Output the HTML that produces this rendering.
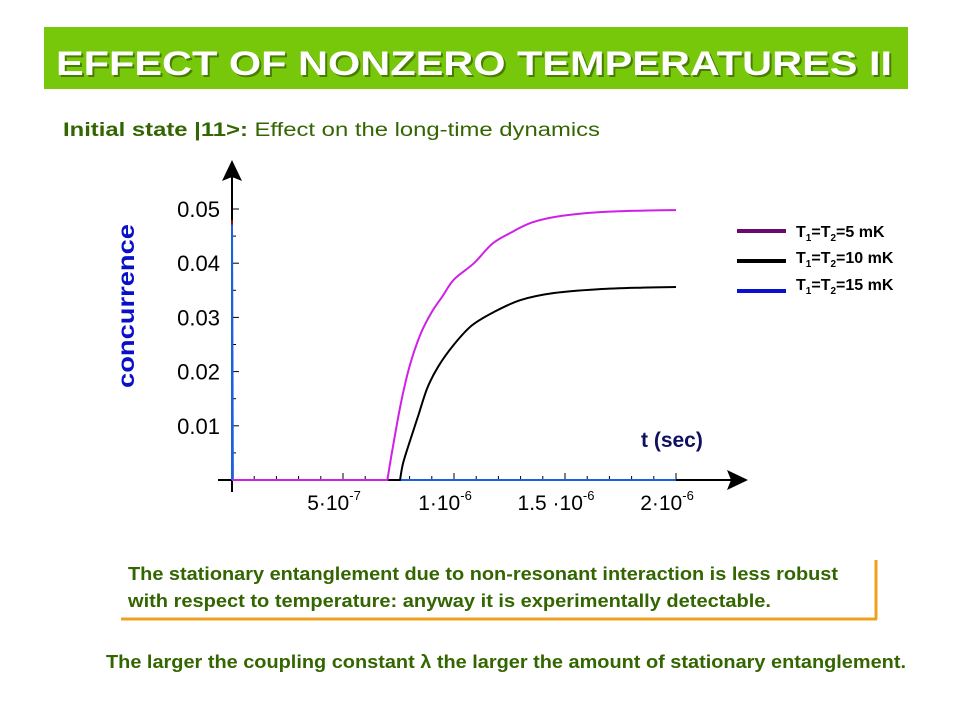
<!DOCTYPE html>
<html><head><meta charset="utf-8"><style>
html,body{margin:0;padding:0;background:#fff;}
svg{display:block;font-family:"Liberation Sans",Arial,sans-serif;}
</style></head><body>
<svg id="chart" width="960" height="720" viewBox="0 0 960 720">
<rect x="44" y="27" width="864" height="62" fill="#77c80a"/>
<text x="58" y="77" font-size="34" font-weight="bold" fill="#2a4a00" opacity="0.6" textLength="836" lengthAdjust="spacingAndGlyphs">EFFECT OF NONZERO TEMPERATURES II</text>
<text x="56" y="75" font-size="34" font-weight="bold" fill="#fff" textLength="836" lengthAdjust="spacingAndGlyphs">EFFECT OF NONZERO TEMPERATURES II</text>
<text x="63" y="136" font-size="19" fill="#336600" textLength="537" lengthAdjust="spacingAndGlyphs"><tspan font-weight="bold">Initial state |11&gt;:</tspan> Effect on the long-time dynamics</text>

<g id="plot"></g>

<text x="0" y="0" transform="translate(134,388) rotate(-90)" font-size="23" font-weight="bold" fill="#0a10c8" textLength="164" lengthAdjust="spacingAndGlyphs">concurrence</text>
<text x="641" y="447" font-size="21" font-weight="bold" fill="#101060">t (sec)</text>

<g>
<g><line x1="737" y1="231" x2="786" y2="231" stroke="#6a0a6e" stroke-width="4"/><text x="796" y="237" font-size="16" font-weight="bold">T<tspan font-size="10" dy="4">1</tspan><tspan dy="-4">=T</tspan><tspan font-size="10" dy="4">2</tspan><tspan dy="-4">=5 mK</tspan></text></g>
<g><line x1="737" y1="261" x2="786" y2="261" stroke="#000" stroke-width="4"/><text x="796" y="263" font-size="16" font-weight="bold">T<tspan font-size="10" dy="4">1</tspan><tspan dy="-4">=T</tspan><tspan font-size="10" dy="4">2</tspan><tspan dy="-4">=10 mK</tspan></text></g>
<g><line x1="737" y1="291" x2="786" y2="291" stroke="#0a10d0" stroke-width="4"/><text x="796" y="290" font-size="16" font-weight="bold">T<tspan font-size="10" dy="4">1</tspan><tspan dy="-4">=T</tspan><tspan font-size="10" dy="4">2</tspan><tspan dy="-4">=15 mK</tspan></text></g>
</g>

<g>
<line x1="876" y1="560" x2="876" y2="619" stroke="#f0a020" stroke-width="3"/>
<line x1="121" y1="619" x2="877" y2="619" stroke="#f0a020" stroke-width="3"/>
<text x="128" y="580" font-size="18" font-weight="bold" fill="#336600" textLength="710" lengthAdjust="spacingAndGlyphs">The stationary entanglement due to non-resonant interaction is less robust</text>
<text x="128" y="607" font-size="18" font-weight="bold" fill="#336600" textLength="643" lengthAdjust="spacingAndGlyphs">with respect to temperature: anyway it is experimentally detectable.</text>
</g>
<text x="106" y="668" font-size="18" font-weight="bold" fill="#336600" textLength="800" lengthAdjust="spacingAndGlyphs">The larger the coupling constant λ the larger the amount of stationary entanglement.</text>
</svg>
<script>
const xTickVals = [5e-7, 1e-6, 1.5e-6, 2e-6];
const xTickMant = ["5·10", "1·10", "1.5 ·10", "2·10"];
const xTickExp = ["-7", "-6", "-6", "-6"];
const yTickVals = [0.01, 0.02, 0.03, 0.04, 0.05];
const yTickLabels = ["0.01", "0.02", "0.03", "0.04", "0.05"];
const t5 = [0, 0.70e-6, 0.72e-6, 0.76e-6, 0.80e-6, 0.85e-6, 0.90e-6, 0.95e-6, 1.0e-6, 1.09e-6, 1.17e-6, 1.25e-6, 1.35e-6, 1.48e-6, 1.65e-6, 1.85e-6, 2.0e-6];
const c5 = [0, 0, 0.005, 0.014, 0.021, 0.027, 0.031, 0.034, 0.037, 0.040, 0.0435, 0.0455, 0.0475, 0.0487, 0.0494, 0.0497, 0.0498];
const t10 = [0, 0.757e-6, 0.77e-6, 0.80e-6, 0.84e-6, 0.88e-6, 0.93e-6, 1.0e-6, 1.08e-6, 1.18e-6, 1.30e-6, 1.45e-6, 1.65e-6, 1.85e-6, 2.0e-6];
const c10 = [0, 0, 0.003, 0.007, 0.012, 0.017, 0.021, 0.025, 0.0285, 0.031, 0.0332, 0.0345, 0.0352, 0.0355, 0.0356];
const t15 = [0, 0, 0.004e-6, 2.0e-6];
const c15 = [0, 0.047, 0, 0];
const spikeT = [0, 0];
const spikeC = [0, 0.048];

const X0 = 232, XS = 222e6, Y0 = 480, YS = 5420;
const sx = t => X0 + t * XS;
const sy = c => Y0 - c * YS;
const NS = "http://www.w3.org/2000/svg";
const g = document.getElementById('plot');
function mk(tag, attrs){const e=document.createElementNS(NS,tag);for(const k in attrs)e.setAttribute(k,attrs[k]);g.appendChild(e);return e;}

const xa = mk('line',{x1:218,y1:Y0,x2:735,y2:Y0,stroke:'#000','stroke-width':2});


const xh = mk('polygon',{points:'748,480 727,470 731,480 727,490',fill:'#000'});


const ya = mk('line',{x1:X0,y1:492,x2:X0,y2:175,stroke:'#000','stroke-width':2});


const yh = mk('polygon',{points:'232,160 222,181 232,177 242,181',fill:'#000'});



for(let i=1;i<=20;i++){
  const x=sx(i*1e-7);
  const tk=mk('line',{x1:x,y1:Y0,x2:x,y2:Y0-(i%5===0?7:4),stroke:'#000','stroke-width':1});
  
  
}
xTickVals.forEach((v,i)=>{
  const t=mk('text',{x:sx(v)-9,y:510,'font-size':21,'text-anchor':'middle',fill:'#000'});
  
  
  t.textContent=xTickMant[i];
  const s=document.createElementNS(NS,'tspan');
  s.setAttribute('font-size','13');s.setAttribute('dy','-10');s.textContent=xTickExp[i];
  t.appendChild(s);
});
for(let i=1;i<=10;i++){
  const y=sy(i*0.005);
  const tk=mk('line',{x1:X0,y1:y,x2:X0+(i%2===0?7:4),y2:y,stroke:'#000','stroke-width':1});
  
  
}
yTickVals.forEach((v,i)=>{
  const t=mk('text',{x:220,y:sy(v)+8,'font-size':22,'text-anchor':'end',fill:'#000'});
  
  
  t.textContent=yTickLabels[i];
});
function smoothPath(pts){
  let d='M'+pts[0][0]+','+pts[0][1];
  for(let i=0;i<pts.length-1;i++){
    const p0=pts[Math.max(0,i-1)],p1=pts[i],p2=pts[i+1],p3=pts[Math.min(pts.length-1,i+2)];
    const c1x=p1[0]+(p2[0]-p0[0])/6,c1y=p1[1]+(p2[1]-p0[1])/6;
    const c2x=p2[0]-(p3[0]-p1[0])/6,c2y=p2[1]-(p3[1]-p1[1])/6;
    d+=' C'+c1x+','+c1y+' '+c2x+','+c2y+' '+p2[0]+','+p2[1];
  }
  return d;
}
function line(ts,cs,color,name,smooth){
  const pts=ts.map((t,i)=>[sx(t),sy(cs[i])]);
  let p;
  if(smooth){
    p=mk('path',{d:'M'+pts[0][0]+','+pts[0][1]+' L'+pts[1][0]+','+pts[1][1]+' '+smoothPath(pts.slice(1)).replace(/^M/,'L'),fill:'none',stroke:color,'stroke-width':2,'stroke-linejoin':'round'});
  } else {
    p=mk('polyline',{points:pts.map(q=>q.join(',')).join(' '),fill:'none',stroke:color,'stroke-width':2,'stroke-linejoin':'round'});
  }
  
  
}
line(spikeT,spikeC,'#7a1010','series-spike-t0',false);
line(t15,c15,'#1a60e0','series-15mk',false);
line(t10,c10,'#000000','series-10mk',true);
line(t5,c5,'#d020e8','series-5mk',true);
</script>
</body></html>
